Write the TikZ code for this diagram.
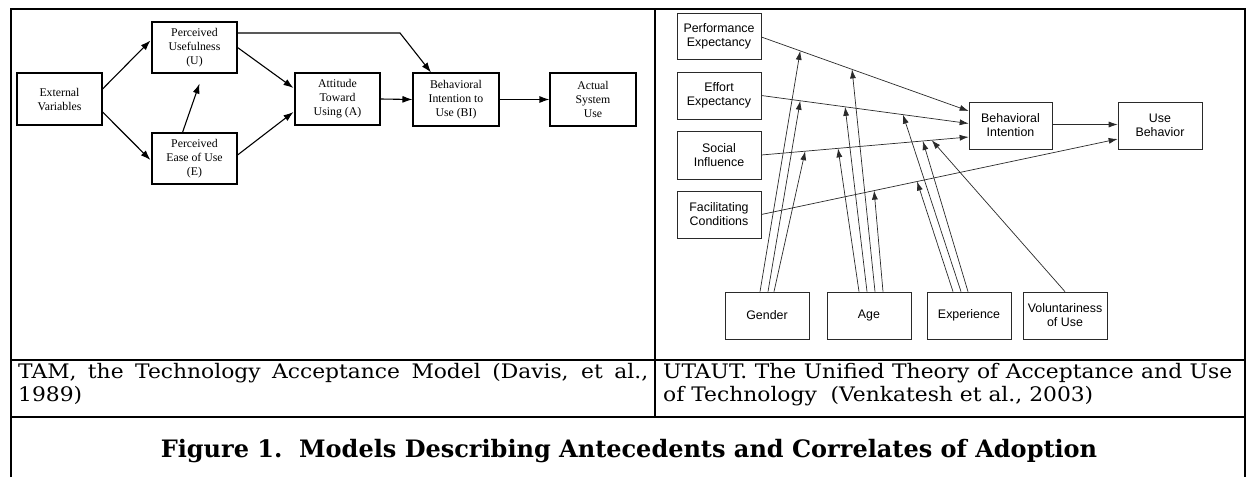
\documentclass[tikz,border=0pt]{standalone}
\usepackage{fontspec}
\setmainfont{Liberation Serif}
\newfontfamily\arialf{Liberation Sans}
\newfontfamily\capf[FakeStretch=1.09]{DejaVu Serif}
\newfontfamily\titlef{DejaVu Serif}
\usetikzlibrary{arrows.meta,calc}
\definecolor{ugray}{HTML}{2A2A2A}
\begin{document}
\begin{tikzpicture}[x=1pt,y=-1pt,
  tambox/.style={draw, line width=1.1pt, minimum width=85pt, minimum height=52pt, inner sep=0pt, align=center, font=\fontsize{11.8}{14}\selectfont},
  tamarr/.style={line width=1.1pt, -{Latex[length=10pt,width=7pt]}},
  ubox/.style={draw=ugray, line width=0.7pt, minimum width=84pt, minimum height=47pt, inner sep=0pt, align=center, font=\arialf\fontsize{12.4}{14}\selectfont},
  uarr/.style={draw=ugray, line width=0.7pt, -{Latex[length=9pt,width=6pt]}},
  tablerule/.style={line width=2pt, line join=miter},
  captext/.style={inner sep=0pt, align=justify, font=\capf\fontsize{20}{23}\selectfont}
]
\useasboundingbox (0,0) rectangle (1248,477);
\fill[white] (0,0) rectangle (1248,477);

% table
\draw[tablerule, line width=2.5pt] (11,477) -- (11,9) -- (1245,9) -- (1245,477);
\draw[tablerule] (655,9) -- (655,417);
\draw[tablerule] (11,360) -- (1245,360);
\draw[tablerule] (11,417) -- (1245,417);

% ---------- TAM ----------
\node[tambox] (ext) at (59.5,99) {External\\Variables};
\node[tambox, minimum height=51pt] (pu) at (194.5,47.5) {Perceived\\Usefulness\\(U)};
\node[tambox, minimum height=51pt] (peu) at (194.5,158.5) {Perceived\\Ease of Use\\(E)};
\node[tambox] (att) at (337.5,99) {Attitude\\Toward\\Using (A)};
\node[tambox, minimum width=86pt, minimum height=53pt] (bi) at (456,99.5) {Behavioral\\Intention to\\Use (BI)};
\node[tambox, minimum width=86pt, minimum height=53pt] (asu) at (593,99.5) {Actual\\System\\Use};

\draw[tamarr] ($(ext.east)+(0,-10)$) -- ($(pu.west)+(-1,-7)$);
\draw[tamarr] ($(ext.east)+(0,13)$) -- ($(peu.west)+(-1,1.5)$);
\draw[tamarr] ($(peu.north)+(-12,0)$) -- ($(pu.south)+(5,10)$);
\draw[tamarr] ($(pu.east)+(0,0)$) -- ($(att.west)+(-1,-11)$);
\draw[tamarr] ($(peu.east)+(0,-3.5)$) -- ($(att.west)+(-1,13)$);
\draw[tamarr] (att.east) -- (bi.west);
\draw[tamarr] ($(pu.east)+(0,-14.5)$) -- (400,33) -- ($(bi.north)+(-25,0)$);
\draw[tamarr] (bi.east) -- (asu.west);

% ---------- UTAUT ----------
\node[ubox, minimum height=46pt] (pe) at (719,36) {Performance\\Expectancy};
\node[ubox] (ee) at (719,95.5) {Effort\\Expectancy};
\node[ubox, minimum height=48pt] (si) at (719,155) {Social\\Influence};
\node[ubox] (fc) at (719,214.5) {Facilitating\\Conditions};
\node[ubox, minimum width=83pt] (bi2) at (1010.5,125.5) {Behavioral\\Intention};
\node[ubox] (ub) at (1160,125.5) {Use\\Behavior};
\node[ubox] (gen) at (767,315.5) {Gender};
\node[ubox] (age) at (869,315.5) {Age};
\node[ubox] (exp) at (969,315.5) {Experience};
\node[ubox] (vol) at (1065,315.5) {Voluntariness\\of Use};

\coordinate (peS) at ($(pe.east)+(0,1)$);
\coordinate (peE) at ($(bi2.west)+(0,-14.5)$);
\coordinate (eeS) at (ee.east);
\coordinate (eeE) at ($(bi2.west)+(0,-2)$);
\coordinate (siS) at (si.east);
\coordinate (siE) at ($(bi2.west)+(0,11.5)$);
\coordinate (fcS) at (fc.east);
\coordinate (fcE) at ($(ub.west)+(0,13.5)$);

\draw[uarr] (peS) -- (peE);
\draw[uarr] (eeS) -- (eeE);
\draw[uarr] (siS) -- (siE);
\draw[uarr] (fcS) -- (fcE);
\draw[uarr] ($(bi2.east)+(0,-1)$) -- ($(ub.west)+(0,-1)$);

% moderators: gender
\draw[uarr] ($(gen.north)+(-7,0)$) -- ($(peS)!0.1875!(peE)$);
\draw[uarr] ($(gen.north)+(1,0)$) -- ($(eeS)!0.1875!(eeE)$);
\draw[uarr] ($(gen.north)+(7,0)$) -- ($(siS)!0.2115!(siE)$);
% age
\draw[uarr] ($(age.north)+(-10,0)$) -- ($(siS)!0.37!(siE)$);
\draw[uarr] ($(age.north)+(-2,0)$) -- ($(eeS)!0.404!(eeE)$);
\draw[uarr] ($(age.north)+(6,0)$) -- ($(peS)!0.4375!(peE)$);
\draw[uarr] ($(age.north)+(14,0)$) -- ($(fcS)!0.3165!(fcE)$);
% experience
\draw[uarr] ($(exp.north)+(-16,0)$) -- ($(fcS)!0.437!(fcE)$);
\draw[uarr] ($(exp.north)+(-8,0)$) -- ($(eeS)!0.683!(eeE)$);
\draw[uarr] ($(exp.north)+(-1,0)$) -- ($(siS)!0.779!(siE)$);
% voluntariness
\draw[uarr] (vol.north) -- ($(siS)!0.822!(siE)$);

% ---------- captions ----------
\node[captext, anchor=base west, text width=630pt] (capl) at (18,378)
  {TAM, the Technology Acceptance Model (Davis, et al.,\linebreak 1989)};
\node[captext, anchor=base west, text width=569pt] (capr) at (663,378)
  {UTAUT. The Unified Theory of Acceptance and Use\linebreak of Technology\ \ (Venkatesh et al., 2003)};
\node[inner sep=0pt, anchor=base, font=\titlef\bfseries\fontsize{24}{28}\selectfont] (title) at (629,457)
  {Figure 1.\ \ Models Describing Antecedents and Correlates of Adoption};
\end{tikzpicture}
\end{document}
